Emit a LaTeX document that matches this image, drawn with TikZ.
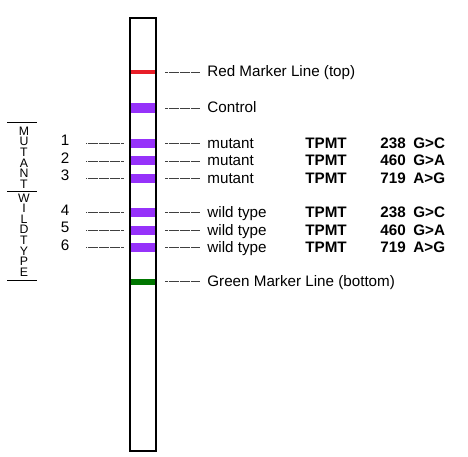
\documentclass[tikz,border=0pt]{standalone}
\usepackage{fontspec}
\setmainfont{Liberation Sans}
\usetikzlibrary{positioning}
\definecolor{bandviolet}{RGB}{150,50,250}
\definecolor{markred}{RGB}{232,30,40}
\definecolor{markgreen}{RGB}{0,118,0}

\begin{document}
\begin{tikzpicture}[x=1pt,y=-1pt,
  band/.style={rectangle,fill=bandviolet,minimum width=26pt,
               minimum height=9pt,inner sep=0pt},
  lbl/.style={font=\fontsize{15.2}{18}\selectfont,inner sep=0pt,
              text height=10pt,text depth=0pt},
  blbl/.style={lbl,font=\fontsize{15.2}{18}\selectfont\bfseries},
  vlab/.style={font=\fontsize{12.3}{10.6}\selectfont,align=center,inner sep=0pt},
  lead/.style={dash pattern=on 0.4pt off 0.7pt,line width=0.45pt,black!75,
               shorten <=9pt,shorten >=7pt},
  llead/.style={lead,shorten <=17pt},
  node distance=51pt
]
\useasboundingbox (0,0) rectangle (468,457);
% test strip with marker lines and bands
\node[band,fill=markred,minimum height=4.5pt] (red) at (143,72) {};
\node[band,minimum height=10pt] (ctrl) at (143,108) {};
\node[band] (b1) at (143,143.5) {};
\node[band] (b2) at (143,161) {};
\node[band] (b3) at (143,178.5) {};
\node[band] (b4) at (143,212.5) {};
\node[band] (b5) at (143,230) {};
\node[band] (b6) at (143,247.5) {};
\node[band,fill=markgreen,minimum height=6pt] (green) at (143,281.5) {};
\node[draw,line width=1.1pt,minimum width=26pt,minimum height=433pt,
      inner sep=0pt] (strip) at (143,234.5) {};
% labels on the right
\node[lbl,right=of red] (redlbl) {Red Marker Line (top)};
\node[lbl,right=of ctrl] (ctrllbl) {Control};
\node[lbl,right=of b1] (m1) {mutant};
\node[lbl,right=of b2] (m2) {mutant};
\node[lbl,right=of b3] (m3) {mutant};
\node[lbl,right=of b4] (w4) {wild type};
\node[lbl,right=of b5] (w5) {wild type};
\node[lbl,right=of b6] (w6) {wild type};
\node[lbl,right=of green] (greenlbl) {Green Marker Line (bottom)};
\foreach \r/\p/\s in {m1/238/G>C,m2/460/G>A,m3/719/A>G,
                      w4/238/G>C,w5/460/G>A,w6/719/A>G}{
  \node[blbl,right=98pt of \r.west] (g\r) {TPMT};
  \node[blbl,right=75pt of g\r.west] (p\r) {\p};
  \node[blbl,right=33pt of p\r.west] (s\r) {\s};
}
\foreach \b/\l in {red/redlbl,ctrl/ctrllbl,b1/m1,b2/m2,b3/m3,
                   b4/w4,b5/w5,b6/w6,green/greenlbl}
  \draw[lead] (\b) -- (\l);
% numbers on the left
\node[lbl] (n1) at (65,141) {1};
\node[lbl] (n2) at (65,158.5) {2};
\node[lbl] (n3) at (65,176) {3};
\node[lbl] (n4) at (65,210) {4};
\node[lbl] (n5) at (65,227.5) {5};
\node[lbl] (n6) at (65,245) {6};
\foreach \i in {1,...,6}
  \draw[llead] (n\i.east |- b\i.west) -- (b\i.west);
% group names
\node[vlab] (mut) at (24,157.5) {M\\U\\T\\A\\N\\T};
\node[vlab] (wild) at (24,235) {W\\I\\L\\D\\T\\Y\\P\\E};
\draw[line width=0.9pt] (7,122) -- (37,122);
\draw[line width=0.9pt] (7,191) -- (37,191);
\draw[line width=0.9pt] (7,280) -- (37,280);
\end{tikzpicture}
\end{document}
